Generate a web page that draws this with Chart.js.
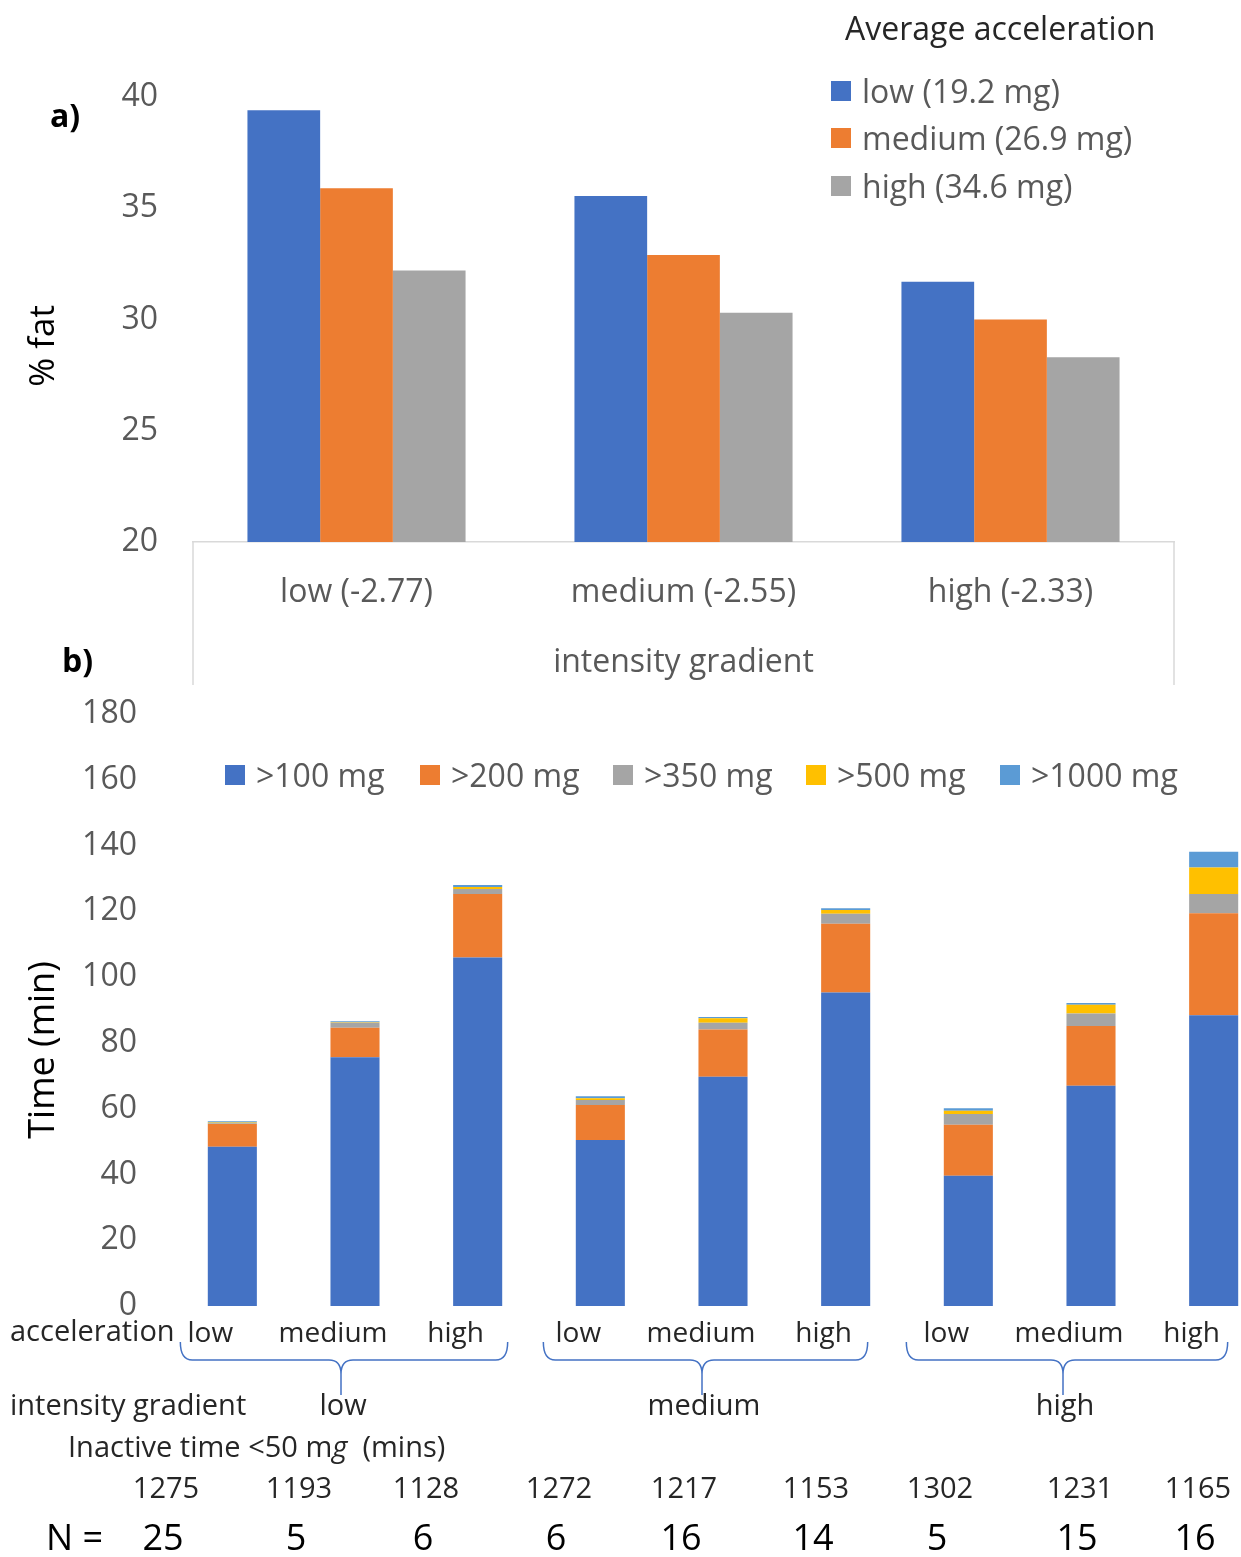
<!DOCTYPE html>
<html>
<head>
<meta charset="utf-8">
<script src="https://cdn.jsdelivr.net/npm/chart.js@4.4.0/dist/chart.umd.min.js"></script>
<style>
  html, body { margin: 0; padding: 0; background: #fff; overflow: hidden; width: 1241px; height: 1557px; }
  body { position: relative; font-family: "Open Sans", Lato, sans-serif; }
  #topWrap { position: absolute; left: 0; top: 0; width: 1241px; height: 690px; }
  #bottomWrap { position: absolute; left: 0; top: 690px; width: 1280px; height: 867px; }
  .panel { position: absolute; font-weight: bold; font-size: 32px; color: #000; line-height: 36px; }
  .legend-title { position: absolute; left: 845px; top: 9px; font-size: 32px; color: #262626; line-height: 38px; }
  .legend-item { position: absolute; display: flex; align-items: center; font-size: 32px; color: #595959; line-height: 36px; white-space: nowrap; }
  .swatch { width: 20px; height: 20px; margin-right: 11px; }
</style>
</head>
<body>
<div id="topWrap"><canvas id="fatChart" width="1241" height="690"></canvas></div>
<div id="bottomWrap"><canvas id="timeChart" width="1280" height="867"></canvas></div>
<div class="panel" style="left:50px; top:97px;">a)</div>
<div class="panel" style="left:62px; top:642px;">b)</div>
<div class="legend-title">Average acceleration</div>
<div id="fatLegend"></div>
<div id="timeLegend"></div>

<script>
// ---- panel a) data: % fat by intensity gradient and average acceleration
const gradientLabels = ['low (-2.77)', 'medium (-2.55)', 'high (-2.33)'];
const accLabels = ['low (19.2 mg)', 'medium (26.9 mg)', 'high (34.6 mg)'];
const fatLowAcc = [39.4, 35.55, 31.7];
const fatMedAcc = [35.9, 32.9, 30.0];
const fatHighAcc = [32.2, 30.3, 28.3];
const fatTicks = [20, 25, 30, 35, 40];

// ---- panel b) data: time above thresholds (min)
const barAccLabels = ['low', 'medium', 'high', 'low', 'medium', 'high', 'low', 'medium', 'high'];
const groupLabels = ['low', 'medium', 'high'];
const thresholdLabels = ['>100 mg', '>200 mg', '>350 mg', '>500 mg', '>1000 mg'];
const over100 = [48.4, 75.6, 106.0, 50.5, 69.7, 95.3, 39.6, 67.0, 88.4];
const over200 = [6.9, 9.0, 19.3, 10.6, 14.4, 20.9, 15.5, 18.1, 31.0];
const over350 = [0.3, 1.5, 1.5, 1.5, 2.0, 3.1, 3.3, 3.8, 5.9];
const over500 = [0.2, 0.2, 0.6, 0.6, 1.4, 1.1, 1.0, 2.7, 8.0];
const over1000 = [0.4, 0.3, 0.6, 0.6, 0.4, 0.5, 0.7, 0.5, 4.8];
const timeTicks = [0, 20, 40, 60, 80, 100, 120, 140, 160, 180];
const inactiveMins = [1275, 1193, 1128, 1272, 1217, 1153, 1302, 1231, 1165];
const nCounts = [25, 5, 6, 6, 16, 14, 5, 15, 16];

// column positions of the text rows under panel b)
const textColX = [166, 299, 426, 559, 684, 816, 940, 1080, 1198];

const colours = ['#4472C4', '#ED7D31', '#A5A5A5', '#FFC000', '#5B9BD5'];
const FONT = 'Open Sans';

Chart.defaults.font.family = FONT;
Chart.defaults.animation = false;

// Side lines of the category box + y title for panel a)
const fatExtras = {
  id: 'fatExtras',
  afterDraw(chart) {
    let ctx = chart.ctx, area = chart.chartArea;
    ctx.save();
    ctx.strokeStyle = '#d9d9d9';
    ctx.lineWidth = 1.5;
    ctx.beginPath();
    ctx.moveTo(area.left, area.bottom); ctx.lineTo(area.left, 685);
    ctx.moveTo(area.right, area.bottom); ctx.lineTo(area.right, 685);
    ctx.stroke();
    ctx.fillStyle = '#000';
    ctx.font = '35px ' + FONT;
    ctx.textAlign = 'center';
    ctx.textBaseline = 'middle';
    ctx.translate(44, 346);
    ctx.rotate(-Math.PI / 2);
    ctx.fillText('% fat', 0, 0);
    ctx.restore();
  }
};

let fatChart = new Chart(document.getElementById('fatChart').getContext('2d'), {
  type: 'bar',
  data: {
    labels: gradientLabels,
    datasets: [
      { label: accLabels[0], data: fatLowAcc, backgroundColor: colours[0] },
      { label: accLabels[1], data: fatMedAcc, backgroundColor: colours[1] },
      { label: accLabels[2], data: fatHighAcc, backgroundColor: colours[2] }
    ]
  },
  options: {
    responsive: false,
    devicePixelRatio: 1,
    layout: { padding: { top: 97, right: 67, left: 0, bottom: 0 } },
    datasets: { bar: { barPercentage: 1, categoryPercentage: 0.667 } },
    plugins: { legend: { display: false }, tooltip: { enabled: false } },
    scales: {
      x: {
        grid: { display: false },
        border: { display: true, color: '#d9d9d9', width: 1.5 },
        ticks: { font: { size: 32 }, color: '#595959', padding: 24 },
        title: { display: true, text: 'intensity gradient', font: { size: 32 }, color: '#595959', padding: { top: 0, bottom: 8 } },
        afterFit: s => { s.height = 148; }
      },
      y: {
        min: 20, max: 40,
        grid: { display: false },
        border: { display: false },
        ticks: { font: { size: 32 }, color: '#595959', padding: 27 },
        afterBuildTicks: s => { s.ticks = fatTicks.map(v => ({ value: v })); },
        afterFit: s => { s.width = 193; s.paddingTop = 0; s.paddingBottom = 0; }
      }
    }
  },
  plugins: [fatExtras]
});

// Braces, group labels and count rows under panel b)
const timeExtras = {
  id: 'timeExtras',
  afterDraw(chart) {
    let ctx = chart.ctx, x = chart.scales.x;
    ctx.save();
    ctx.fillStyle = '#000';
    ctx.font = '36px ' + FONT;
    ctx.textAlign = 'center';
    ctx.textBaseline = 'middle';
    ctx.save();
    ctx.translate(44, 360);
    ctx.rotate(-Math.PI / 2);
    ctx.fillText('Time (min)', 0, 0);
    ctx.restore();

    ctx.fillStyle = '#262626';
    ctx.font = '29px ' + FONT;
    ctx.textAlign = 'left';
    ctx.fillText('acceleration', 10, 643);
    ctx.fillText('intensity gradient', 10, 717);

    // braces under each intensity gradient group
    ctx.strokeStyle = '#4472C4';
    ctx.lineWidth = 1.5;
    ctx.textAlign = 'center';
    for (let g = 0; g < groupLabels.length; g++) {
      let c0 = x.getPixelForValue(g * 3), c1 = x.getPixelForValue(g * 3 + 1), c2 = x.getPixelForValue(g * 3 + 2);
      let xl = c0 - 52 - g * 5, xc = c1 - 14 - g * 7, xr = c2 + 30 - g * 8;
      ctx.beginPath();
      ctx.moveTo(xl, 652);
      ctx.quadraticCurveTo(xl, 670, xl + 12, 670);
      ctx.lineTo(xc - 12, 670);
      ctx.quadraticCurveTo(xc, 670, xc, 684);
      ctx.lineTo(xc, 705);
      ctx.moveTo(xc, 684);
      ctx.quadraticCurveTo(xc, 670, xc + 12, 670);
      ctx.lineTo(xr - 12, 670);
      ctx.quadraticCurveTo(xr, 670, xr, 652);
      ctx.stroke();
      ctx.fillText(groupLabels[g], xc + 2, 717);
    }

    // Inactive time <50 mg (mins), with italic g
    ctx.textAlign = 'left';
    let tx = 68;
    let part1 = 'Inactive time <50 m';
    ctx.fillText(part1, tx, 759);
    tx += ctx.measureText(part1).width;
    ctx.font = 'italic 29px ' + FONT;
    ctx.fillText('g', tx, 759);
    tx += ctx.measureText('g').width;
    ctx.font = '29px ' + FONT;
    ctx.fillText('  (mins)', tx, 759);

    ctx.textAlign = 'center';
    for (let i = 0; i < inactiveMins.length; i++) {
      ctx.fillText(String(inactiveMins[i]), textColX[i], 800);
    }
    ctx.font = '36px ' + FONT;
    ctx.textAlign = 'left';
    ctx.fillStyle = '#000';
    ctx.fillText('N =', 46, 850);
    ctx.textAlign = 'center';
    for (let i = 0; i < nCounts.length; i++) {
      ctx.fillText(String(nCounts[i]), textColX[i] - 3, 850);
    }
    ctx.restore();
  }
};

let stacks = [over100, over200, over350, over500, over1000];
let timeChart = new Chart(document.getElementById('timeChart').getContext('2d'), {
  type: 'bar',
  data: {
    labels: barAccLabels,
    datasets: stacks.map((d, i) => ({ label: thresholdLabels[i], data: d, backgroundColor: colours[i] }))
  },
  options: {
    responsive: false,
    devicePixelRatio: 1,
    layout: { padding: { top: 24, right: 5, left: 0, bottom: 0 } },
    datasets: { bar: { barPercentage: 0.4, categoryPercentage: 1 } },
    plugins: { legend: { display: false }, tooltip: { enabled: false } },
    scales: {
      x: {
        stacked: true,
        grid: { display: false },
        border: { display: false },
        ticks: { font: { size: 28 }, color: '#262626', padding: 3, labelOffset: -22, maxRotation: 0, autoSkip: false },
        afterFit: s => { s.height = 251; }
      },
      y: {
        stacked: true,
        min: 0, max: 180,
        grid: { display: false },
        border: { display: false },
        ticks: { font: { size: 32 }, color: '#595959', padding: 26 },
        afterBuildTicks: s => { s.ticks = timeTicks.map(v => ({ value: v })); },
        afterFit: s => { s.width = 171; s.paddingTop = 0; s.paddingBottom = 0; }
      }
    }
  },
  plugins: [timeExtras]
});

// HTML legends built from the chart datasets
function buildLegend(chart, target, positions) {
  let html = '';
  chart.data.datasets.forEach((ds, i) => {
    html += '<div class="legend-item" style="left:' + positions[i][0] + 'px; top:' + positions[i][1] + 'px;">';
    html += '<span class="swatch" style="background:' + ds.backgroundColor + ';"></span>';
    html += '<span>' + ds.label.replace(/>/g, '&gt;') + '</span></div>';
  });
  document.getElementById(target).innerHTML = html;
}
buildLegend(fatChart, 'fatLegend', [[831, 73], [831, 120], [831, 168]]);
buildLegend(timeChart, 'timeLegend', [[225, 757], [420, 757], [613, 757], [806, 757], [1000, 757]]);
</script>
</body>
</html>
